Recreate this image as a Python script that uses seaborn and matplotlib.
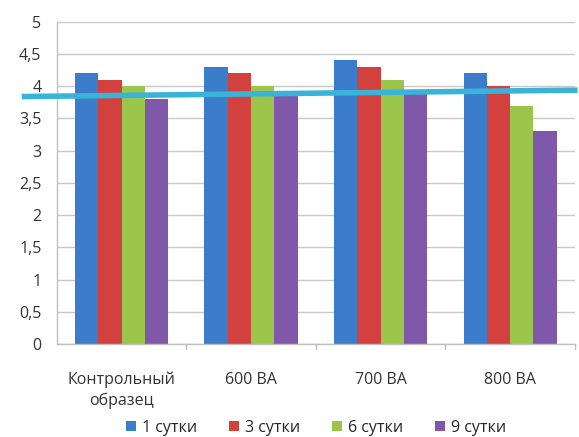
import matplotlib
matplotlib.use("Agg")
import matplotlib.pyplot as plt
import seaborn as sns
import pandas as pd

categories = ["Контрольный\nобразец", "600 ВА", "700 ВА", "800 ВА"]
series_names = ["1 сутки", "3 сутки", "6 сутки", "9 сутки"]
day1 = [4.2, 4.3, 4.4, 4.2]
day3 = [4.1, 4.2, 4.3, 4.0]
day6 = [4.0, 4.0, 4.1, 3.7]
day9 = [3.8, 3.9, 3.9, 3.3]
trend_x = [-0.77, 3.52]
trend_y = [3.84, 3.94]
y_ticks = [0, 0.5, 1, 1.5, 2, 2.5, 3, 3.5, 4, 4.5, 5]

colors = ["#3C7DCB", "#D2413E", "#9CC64B", "#7F58A9"]

rows = []
for name, vals in zip(series_names, [day1, day3, day6, day9]):
    for cat, v in zip(categories, vals):
        rows.append({"cat": cat, "series": name, "value": v})
df = pd.DataFrame(rows)

sns.set_style("white")
plt.rcParams["font.family"] = ["Open Sans", "DejaVu Sans"]

fig = plt.figure(figsize=(5.79, 4.37), dpi=100)
ax = fig.add_axes([0.098, 0.213, 0.895, 0.737])

sns.barplot(data=df, x="cat", y="value", hue="series", palette=colors,
            width=0.72, gap=0, saturation=1, ax=ax, legend=True,
            edgecolor="none", zorder=2)

ax.set_ylim(0, 5)
ax.set_xlim(-0.5, 3.5)
ax.set_yticks(y_ticks)
ax.set_yticklabels([("%g" % t).replace(".", ",") for t in y_ticks])
ax.yaxis.grid(True, color="#C8C8C8", linewidth=1, zorder=0)
ax.set_axisbelow(True)
ax.set_xlabel("")
ax.set_ylabel("")

for side in ["top", "right"]:
    ax.spines[side].set_visible(False)
for side in ["left", "bottom"]:
    ax.spines[side].set_color("#C0C0C0")
    ax.spines[side].set_linewidth(1)

ax.set_xticks([0, 1, 2, 3])
ax.set_xticklabels(categories, linespacing=1.35)
ax.tick_params(axis="x", length=0, pad=20, labelsize=11.5, colors="#333333")
ax.tick_params(axis="y", length=5, pad=6, labelsize=11.5, colors="#333333",
               color="#C0C0C0")
# category boundary tick marks on the x axis
for b in [0.5, 1.5, 2.5, 3.5]:
    ax.plot([b, b], [0, -0.08], color="#C0C0C0", lw=1, clip_on=False)

ax.plot(trend_x, trend_y, color="#39B4D8", lw=4, clip_on=False, zorder=5,
        solid_capstyle="butt")

leg = ax.legend(loc="upper center", bbox_to_anchor=(0.5, -0.205), ncol=4,
                frameon=False, fontsize=11.5, handlelength=0.65,
                handleheight=0.65, handletextpad=0.35, columnspacing=2.0,
                borderpad=0.1)

fig.savefig("out.png", dpi=100, facecolor="white")
